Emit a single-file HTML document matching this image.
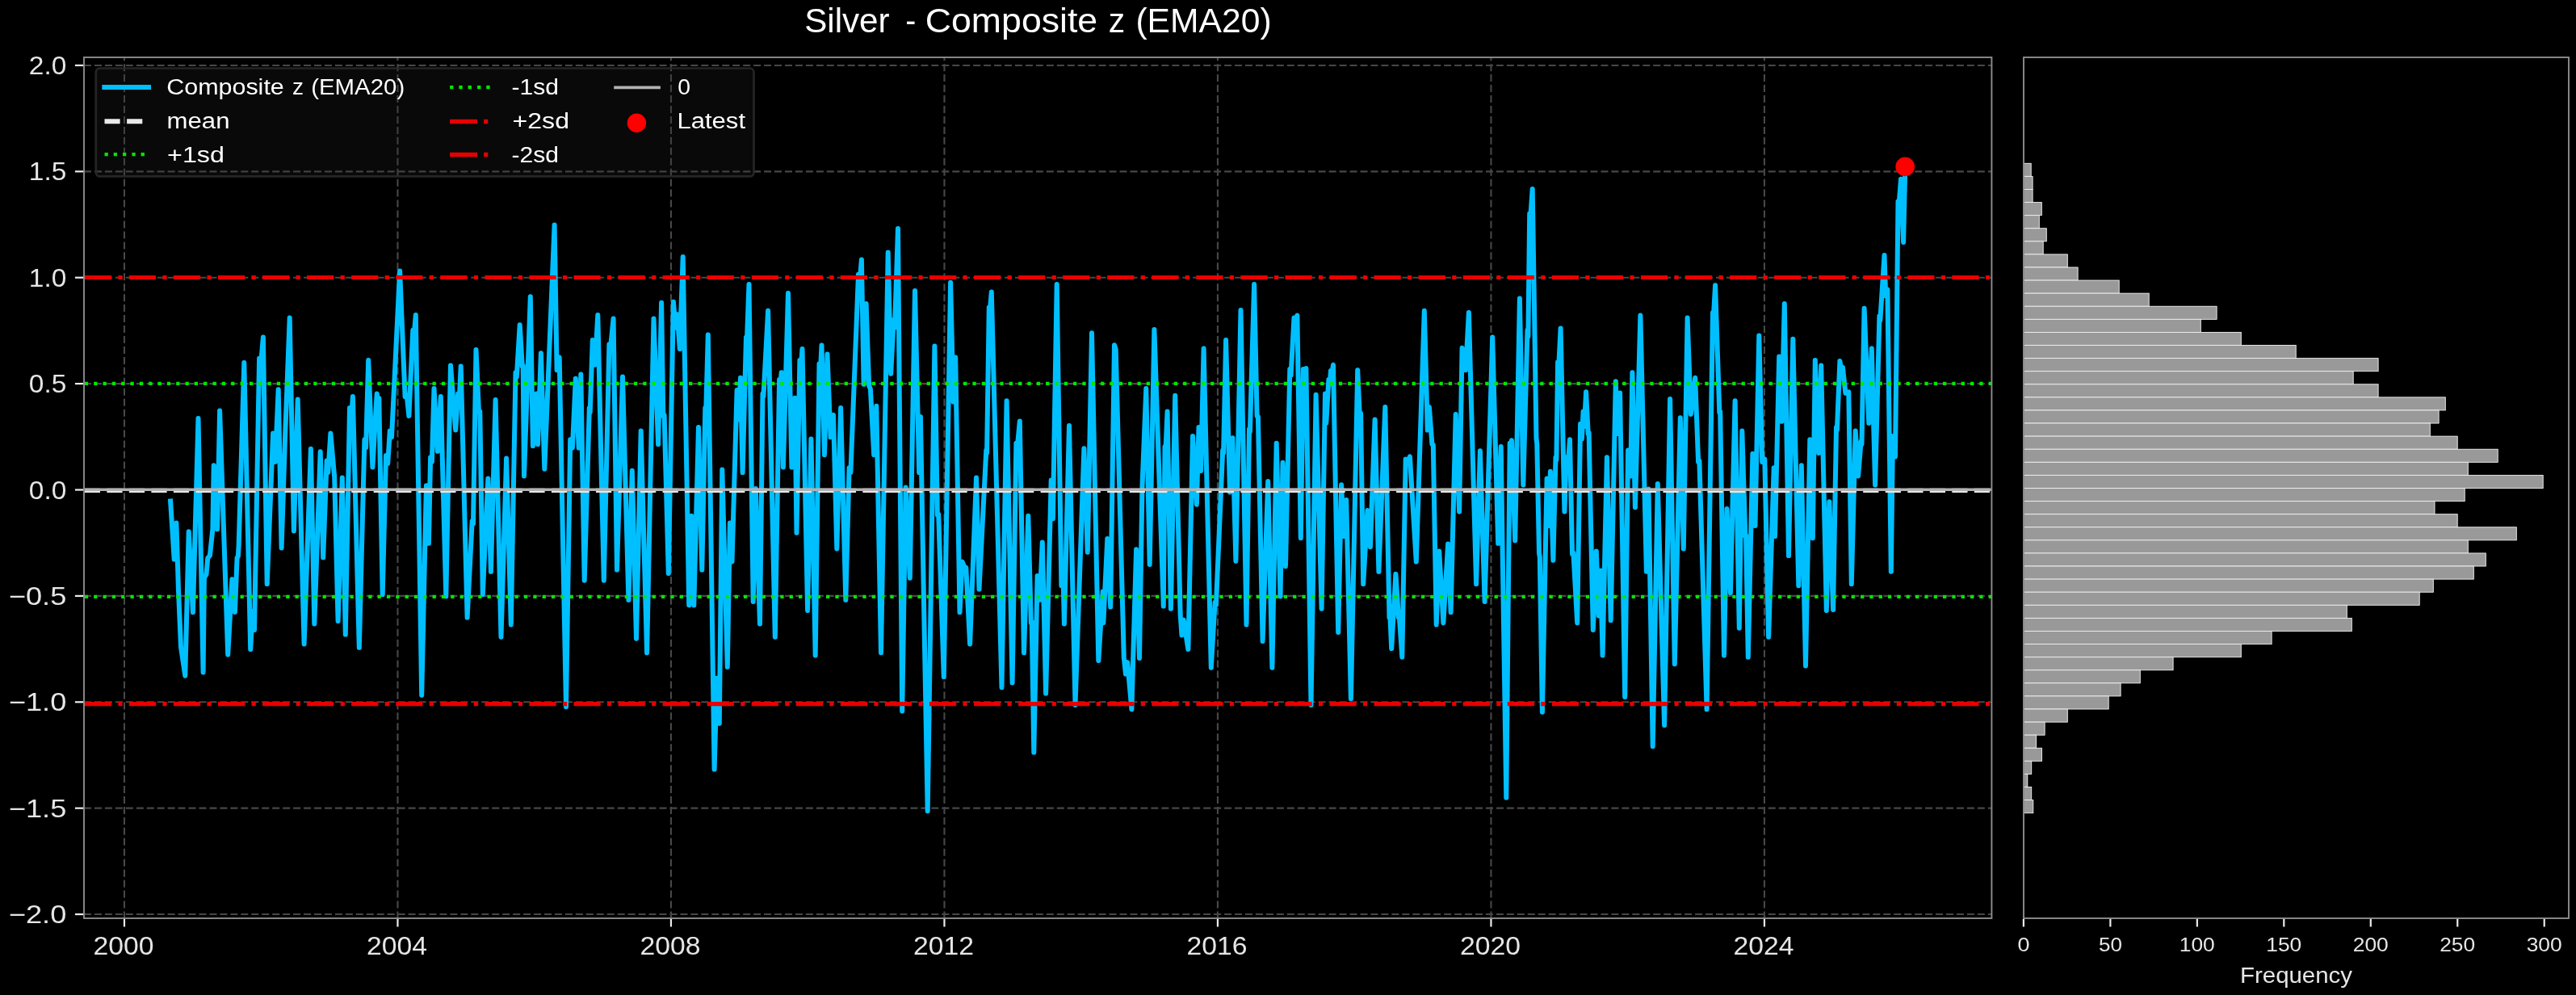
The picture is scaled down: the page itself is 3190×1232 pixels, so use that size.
<!DOCTYPE html>
<html><head><meta charset="utf-8"><title>Silver - Composite z (EMA20)</title>
<style>html,body{margin:0;padding:0;background:#000;}body{width:3190px;height:1232px;overflow:hidden;}svg{display:block;will-change:transform;}text{font-family:"Liberation Sans", sans-serif;}</style>
</head><body>
<svg width="3190" height="1232" viewBox="0 0 3190 1232">
<rect x="0" y="0" width="3190" height="1232" fill="#000"/>
<defs><clipPath id="cm"><rect x="104.0" y="71.0" width="2362.4" height="1066.0"/></clipPath></defs>
<g stroke="#474747" stroke-width="2.1" stroke-dasharray="9.0 3.955" fill="none" clip-path="url(#cm)">
<line x1="153.97" y1="1137.5" x2="153.97" y2="71.0"/>
<line x1="492.47" y1="1137.5" x2="492.47" y2="71.0"/>
<line x1="830.96" y1="1137.5" x2="830.96" y2="71.0"/>
<line x1="1169.46" y1="1137.5" x2="1169.46" y2="71.0"/>
<line x1="1507.95" y1="1137.5" x2="1507.95" y2="71.0"/>
<line x1="1846.45" y1="1137.5" x2="1846.45" y2="71.0"/>
<line x1="2184.95" y1="1137.5" x2="2184.95" y2="71.0"/>
<line x1="104.0" y1="80.94" x2="2466.4" y2="80.94"/>
<line x1="104.0" y1="212.33" x2="2466.4" y2="212.33"/>
<line x1="104.0" y1="343.72" x2="2466.4" y2="343.72"/>
<line x1="104.0" y1="475.11" x2="2466.4" y2="475.11"/>
<line x1="104.0" y1="606.50" x2="2466.4" y2="606.50"/>
<line x1="104.0" y1="737.89" x2="2466.4" y2="737.89"/>
<line x1="104.0" y1="869.28" x2="2466.4" y2="869.28"/>
<line x1="104.0" y1="1000.67" x2="2466.4" y2="1000.67"/>
<line x1="104.0" y1="1132.06" x2="2466.4" y2="1132.06"/>
</g>
<path d="M210.9 617.5 L214.0 665.6 L215.7 692.5 L218.4 647.4 L221.0 731.1 L224.0 801.1 L229.3 836.8 L233.7 658.3 L238.9 758.1 L245.5 518.1 L251.6 832.4 L252.9 715.8 L255.5 711.0 L257.3 690.9 L259.9 687.9 L263.4 655.1 L264.7 576.3 L269.1 655.3 L272.1 508.5 L282.2 810.5 L287.4 717.3 L290.9 758.1 L293.6 690.5 L294.9 688.7 L295.7 674.3 L302.3 449.0 L310.2 804.0 L312.8 756.7 L315.0 779.9 L321.1 443.8 L322.4 458.3 L325.9 417.6 L330.7 723.1 L338.1 536.5 L340.8 571.9 L344.7 482.3 L348.6 678.5 L353.0 542.8 L358.7 393.5 L363.9 657.5 L368.7 494.5 L376.6 797.4 L384.9 555.7 L389.3 772.5 L396.7 559.2 L400.2 690.3 L404.6 570.6 L406.3 585.1 L409.4 536.5 L414.2 590.9 L418.6 769.0 L423.8 591.6 L427.8 785.6 L433.0 505.0 L434.8 523.9 L436.9 491.0 L444.8 801.8 L451.4 544.3 L453.1 554.5 L456.2 446.0 L461.4 578.5 L466.7 487.5 L468.0 497.6 L469.3 492.8 L473.7 736.2 L478.0 564.0 L480.2 574.1 L482.8 533.4 L485.0 541.3 L495.1 335.4 L501.6 491.1 L503.8 489.7 L506.4 515.1 L511.3 408.8 L512.6 416.8 L514.8 390.0 L522.2 860.8 L527.9 601.2 L530.9 672.8 L533.1 566.2 L534.9 571.9 L537.5 481.0 L541.9 558.8 L545.8 491.0 L552.3 738.4 L558.0 452.5 L564.2 532.6 L567.2 487.5 L568.5 502.0 L570.7 453.4 L578.6 764.6 L584.7 645.2 L586.0 648.8 L589.5 432.9 L593.0 510.7 L594.3 509.4 L597.8 736.2 L604.4 592.4 L607.9 707.8 L613.6 494.9 L620.5 788.7 L627.1 567.5 L632.8 773.4 L638.5 461.3 L639.8 467.0 L643.7 402.3 L646.8 453.9 L647.7 452.5 L649.0 589.4 L656.8 367.3 L659.9 552.3 L664.3 487.5 L666.0 550.1 L669.9 437.2 L674.3 580.7 L686.6 278.5 L689.6 458.3 L692.7 442.5 L701.0 875.2 L706.2 544.3 L708.9 554.5 L712.8 468.7 L716.7 554.5 L719.3 463.5 L723.7 718.7 L729.8 505.0 L730.7 510.7 L733.8 421.1 L736.8 451.7 L740.3 390.0 L747.8 718.7 L754.4 426.3 L755.7 434.2 L759.6 394.4 L764.0 705.6 L771.0 466.5 L778.4 742.8 L782.8 582.8 L788.0 790.8 L793.7 533.4 L801.1 808.3 L809.5 394.4 L815.1 550.1 L819.1 374.7 L821.3 515.1 L822.6 513.7 L827.8 710.0 L833.9 373.8 L836.6 405.8 L838.7 389.2 L841.8 432.1 L845.7 317.9 L853.2 749.3 L856.2 638.7 L859.3 749.3 L865.0 529.0 L869.3 705.6 L873.3 505.0 L874.2 510.7 L876.8 414.5 L884.6 952.6 L887.7 839.8 L890.8 895.8 L894.3 581.5 L900.8 825.8 L903.9 647.4 L906.5 695.5 L912.6 483.1 L914.4 519.5 L917.0 467.8 L919.6 585.1 L924.0 417.6 L924.9 423.3 L927.5 352.0 L932.7 744.9 L935.8 605.0 L941.0 772.5 L944.5 487.5 L945.4 491.1 L951.1 384.8 L959.8 788.7 L965.1 470.0 L966.4 475.8 L967.7 461.3 L969.9 578.5 L976.0 362.9 L980.4 578.5 L984.3 492.8 L986.5 659.7 L990.4 446.0 L991.7 458.3 L993.5 432.0 L1000.1 755.9 L1004.4 543.5 L1009.7 811.4 L1014.5 450.4 L1015.8 462.7 L1017.5 427.6 L1021.0 563.2 L1024.5 438.5 L1028.5 541.3 L1032.0 513.7 L1036.3 679.4 L1041.1 505.0 L1047.3 742.8 L1051.6 579.3 L1053.4 585.1 L1063.0 339.8 L1064.3 353.4 L1066.9 321.4 L1069.6 475.8 L1072.6 376.0 L1076.1 477.3 L1077.9 481.6 L1082.2 563.2 L1085.3 502.8 L1091.0 808.3 L1099.7 312.6 L1103.2 462.7 L1106.7 395.7 L1108.0 405.8 L1112.0 282.9 L1117.2 880.5 L1121.6 603.4 L1126.8 715.7 L1133.0 359.9 L1138.2 585.1 L1139.9 515.9 L1148.7 1004.2 L1157.4 428.5 L1160.9 637.8 L1162.2 636.5 L1168.8 838.1 L1177.1 349.8 L1180.6 497.6 L1183.2 442.5 L1188.5 758.1 L1191.5 695.5 L1195.0 703.4 L1196.3 702.9 L1201.1 797.4 L1209.0 591.6 L1212.5 729.6 L1221.3 557.5 L1222.1 561.0 L1224.8 380.4 L1225.6 388.3 L1227.8 361.6 L1240.5 851.2 L1246.6 496.3 L1253.6 845.5 L1258.4 548.7 L1259.7 554.5 L1262.8 521.6 L1268.0 808.3 L1273.3 638.7 L1276.8 771.2 L1277.7 769.8 L1280.3 931.6 L1284.6 713.0 L1287.7 742.8 L1290.8 671.4 L1295.1 858.6 L1301.7 594.6 L1303.9 642.2 L1308.7 352.0 L1314.4 725.3 L1316.2 695.5 L1317.9 772.5 L1324.0 526.9 L1331.5 873.0 L1342.4 555.3 L1346.8 683.7 L1352.0 412.3 L1360.3 818.0 L1365.6 732.6 L1366.4 771.2 L1371.3 667.1 L1375.2 751.5 L1380.0 427.2 L1381.7 432.7 L1391.8 814.2 L1394.0 834.6 L1396.2 820.1 L1401.4 878.3 L1407.1 680.2 L1411.0 814.9 L1414.5 601.9 L1419.3 481.0 L1423.7 699.0 L1429.4 407.9 L1440.8 750.6 L1442.5 553.1 L1443.4 558.8 L1445.6 509.4 L1449.9 753.7 L1455.2 489.7 L1461.7 761.7 L1463.5 786.5 L1465.7 767.6 L1471.4 804.0 L1477.0 540.0 L1481.9 624.7 L1484.5 529.0 L1487.1 582.9 L1490.6 431.6 L1499.8 826.7 L1504.6 745.8 L1505.9 749.3 L1514.2 557.5 L1515.1 561.0 L1518.1 421.1 L1523.0 609.4 L1526.4 542.2 L1530.4 694.7 L1536.5 383.9 L1543.5 773.4 L1547.0 531.2 L1547.9 534.8 L1553.1 352.0 L1556.6 515.1 L1557.9 515.9 L1563.6 793.9 L1570.2 595.9 L1575.4 826.7 L1580.7 548.7 L1585.5 738.4 L1588.5 572.8 L1592.0 701.2 L1597.3 456.9 L1598.6 464.8 L1602.5 393.5 L1603.8 397.1 L1606.4 390.5 L1610.8 666.3 L1613.9 456.9 L1615.6 460.5 L1617.4 456.0 L1623.5 873.0 L1629.6 488.8 L1636.6 753.7 L1641.0 487.5 L1642.3 523.9 L1645.4 470.0 L1646.7 475.8 L1648.0 459.1 L1649.3 462.7 L1651.0 451.7 L1657.2 783.0 L1661.1 600.3 L1664.2 664.1 L1667.2 619.0 L1672.9 865.2 L1681.2 458.2 L1683.8 515.1 L1685.1 511.6 L1688.2 723.1 L1693.4 632.1 L1696.9 677.2 L1702.6 519.4 L1707.4 707.8 L1715.3 504.1 L1720.5 764.6 L1721.4 763.2 L1723.2 803.1 L1728.4 710.8 L1731.9 764.6 L1732.8 763.2 L1736.3 813.6 L1740.7 568.4 L1742.8 574.1 L1745.9 565.3 L1753.8 695.5 L1763.8 384.8 L1767.8 532.6 L1769.9 504.1 L1773.4 550.1 L1774.8 550.9 L1778.7 773.4 L1782.2 682.4 L1787.4 771.2 L1793.1 673.6 L1796.6 758.1 L1802.7 512.9 L1807.1 633.5 L1810.6 430.7 L1815.0 458.3 L1818.9 387.0 L1828.1 723.1 L1832.9 558.3 L1838.6 744.9 L1848.2 417.6 L1855.2 672.8 L1858.7 553.1 L1865.3 987.6 L1869.7 548.7 L1870.5 554.5 L1871.9 545.2 L1876.2 669.3 L1881.9 369.5 L1886.3 600.4 L1891.5 408.8 L1892.4 416.8 L1894.2 264.6 L1895.0 272.5 L1897.7 234.0 L1902.5 542.8 L1903.3 549.4 L1906.0 685.2 L1906.8 689.6 L1909.9 881.8 L1915.6 592.4 L1917.8 651.0 L1919.9 583.7 L1923.4 693.8 L1926.5 566.2 L1927.4 569.8 L1929.1 448.2 L1930.0 458.3 L1932.6 406.6 L1937.4 633.5 L1939.6 566.2 L1941.4 580.7 L1944.0 544.3 L1947.0 685.9 L1948.4 684.6 L1953.2 771.2 L1957.1 524.7 L1958.9 543.5 L1960.6 509.4 L1961.9 528.2 L1964.1 485.3 L1966.7 537.0 L1967.6 535.6 L1972.8 779.9 L1976.8 682.4 L1979.8 762.4 L1982.0 706.4 L1984.6 811.4 L1989.9 566.2 L1994.7 768.1 L2000.8 472.2 L2003.0 537.0 L2006.1 486.6 L2012.2 863.0 L2016.1 557.5 L2019.2 589.4 L2021.4 461.3 L2024.9 628.2 L2031.4 390.5 L2038.9 707.8 L2041.5 605.5 L2046.7 924.2 L2052.8 599.0 L2061.1 898.0 L2068.1 494.1 L2073.8 822.3 L2080.8 517.2 L2084.8 679.4 L2089.6 393.5 L2093.9 512.9 L2099.2 467.8 L2103.1 571.9 L2104.4 570.6 L2113.6 878.3 L2121.0 387.0 L2121.9 392.7 L2124.1 353.3 L2129.3 510.7 L2130.2 509.4 L2135.0 811.4 L2138.5 629.9 L2142.9 734.0 L2148.6 496.3 L2153.8 777.7 L2157.3 533.4 L2161.3 664.1 L2162.1 662.7 L2164.8 813.6 L2170.4 561.8 L2173.5 651.0 L2178.3 415.4 L2182.2 571.9 L2185.3 568.4 L2190.1 788.7 L2196.7 579.3 L2198.0 664.1 L2203.2 441.6 L2206.3 521.7 L2209.8 376.0 L2215.0 688.1 L2220.3 419.8 L2227.3 725.3 L2230.8 576.3 L2236.0 824.5 L2241.3 544.3 L2244.8 666.3 L2247.8 446.0 L2252.2 561.0 L2255.2 452.5 L2261.8 755.9 L2265.3 621.2 L2270.1 755.0 L2274.0 529.0 L2274.9 532.6 L2278.4 446.9 L2280.2 458.3 L2281.9 454.7 L2285.4 486.7 L2289.3 485.3 L2292.8 723.1 L2297.7 533.4 L2301.1 589.4 L2304.6 546.5 L2305.5 550.1 L2308.6 381.7 L2314.3 523.9 L2317.8 431.6 L2322.1 600.4 L2327.4 391.3 L2328.3 397.1 L2333.5 316.1 L2335.2 366.5 L2337.4 358.5 L2341.8 707.8 L2344.0 540.0 L2347.0 565.4 L2350.5 249.3 L2351.4 255.0 L2354.0 221.7 L2357.1 300.0 L2359.3 206.2" fill="none" stroke="#00bfff" stroke-width="6.0" stroke-linejoin="round" stroke-linecap="butt" clip-path="url(#cm)"/>
<g clip-path="url(#cm)" fill="none">
<line x1="104.8" y1="607.3" x2="2466.4" y2="607.3" stroke="#e9e9e9" stroke-width="5.2" stroke-dasharray="19.22 8.31"/>
<line x1="104.8" y1="474.9" x2="2466.4" y2="474.9" stroke="#00e800" stroke-width="4.2" stroke-dasharray="4.28 7.056"/>
<line x1="104.8" y1="738.9" x2="2466.4" y2="738.9" stroke="#00e800" stroke-width="4.2" stroke-dasharray="4.28 7.056"/>
<line x1="104.8" y1="343.5" x2="2466.4" y2="343.5" stroke="#e80000" stroke-width="5.2" stroke-dasharray="33.245 8.311 5.194 8.311"/>
<line x1="104.8" y1="871.6" x2="2466.4" y2="871.6" stroke="#e80000" stroke-width="5.2" stroke-dasharray="33.245 8.311 5.194 8.311"/>
<line x1="104.0" y1="606.3" x2="2466.4" y2="606.3" stroke="#b2b2b2" stroke-width="3.6"/>
</g>
<circle cx="2359.2" cy="206.4" r="11.8" fill="#ff0000"/>
<rect x="118.8" y="84.5" width="814.7" height="133.9" rx="5" ry="5" fill="#2a2a2a" fill-opacity="0.22" stroke="#282828" stroke-opacity="0.92" stroke-width="2.7"/>
<line x1="126.3" y1="108" x2="187" y2="108" stroke="#00bfff" stroke-width="6.1"/>
<path d="M129.5 150.2H148.6M157.1 150.2H176.3" stroke="#e9e9e9" stroke-width="6.1" fill="none"/>
<rect x="129.5" y="189.0" width="4.3" height="4.3" fill="#00e800"/>
<rect x="140.7" y="189.0" width="4.3" height="4.3" fill="#00e800"/>
<rect x="152.0" y="189.0" width="4.3" height="4.3" fill="#00e800"/>
<rect x="163.4" y="189.0" width="4.3" height="4.3" fill="#00e800"/>
<rect x="174.6" y="189.0" width="4.3" height="4.3" fill="#00e800"/>
<rect x="557.1" y="105.9" width="4.3" height="4.3" fill="#00e800"/>
<rect x="568.4" y="105.9" width="4.3" height="4.3" fill="#00e800"/>
<rect x="579.6" y="105.9" width="4.3" height="4.3" fill="#00e800"/>
<rect x="591.1" y="105.9" width="4.3" height="4.3" fill="#00e800"/>
<rect x="602.3" y="105.9" width="4.3" height="4.3" fill="#00e800"/>
<path d="M557.1 150.5H591M599.1 150.5H604.3" stroke="#e60000" stroke-width="5.5" fill="none"/>
<path d="M557.1 191.4H591M599.1 191.4H604.3" stroke="#e60000" stroke-width="5.5" fill="none"/>
<line x1="760.2" y1="108.4" x2="817.9" y2="108.4" stroke="#b2b2b2" stroke-width="3.6"/>
<circle cx="788.4" cy="152.3" r="11.7" fill="#ff0000"/>
<text x="206.2" y="116.8" font-size="28.40" text-anchor="start" fill="#ffffff" textLength="145.6" lengthAdjust="spacingAndGlyphs">Composite</text>
<text x="362.0" y="116.8" font-size="28.40" text-anchor="start" fill="#ffffff" textLength="14.0" lengthAdjust="spacingAndGlyphs">z</text>
<text x="385.2" y="116.8" font-size="28.40" text-anchor="start" fill="#ffffff" textLength="116.0" lengthAdjust="spacingAndGlyphs">(EMA20)</text>
<text x="206.5" y="158.8" font-size="28.40" text-anchor="start" fill="#ffffff" textLength="78.0" lengthAdjust="spacingAndGlyphs">mean</text>
<text x="207.0" y="200.9" font-size="28.40" text-anchor="start" fill="#ffffff" textLength="71.0" lengthAdjust="spacingAndGlyphs">+1sd</text>
<text x="633.5" y="116.8" font-size="28.40" text-anchor="start" fill="#ffffff" textLength="58.5" lengthAdjust="spacingAndGlyphs">-1sd</text>
<text x="634.5" y="158.8" font-size="28.40" text-anchor="start" fill="#ffffff" textLength="70.5" lengthAdjust="spacingAndGlyphs">+2sd</text>
<text x="633.5" y="200.9" font-size="28.40" text-anchor="start" fill="#ffffff" textLength="58.5" lengthAdjust="spacingAndGlyphs">-2sd</text>
<text x="839.3" y="116.8" font-size="28.40" text-anchor="start" fill="#ffffff" textLength="15.8" lengthAdjust="spacingAndGlyphs">0</text>
<text x="838.5" y="158.8" font-size="28.40" text-anchor="start" fill="#ffffff" textLength="84.5" lengthAdjust="spacingAndGlyphs">Latest</text>
<rect x="104.0" y="71.0" width="2362.4" height="1066.0" fill="none" stroke="#8c8c8c" stroke-width="1.9"/>
<g stroke="#ececec" stroke-width="2.2">
<line x1="92.9" y1="80.94" x2="103.1" y2="80.94"/>
<line x1="92.9" y1="212.33" x2="103.1" y2="212.33"/>
<line x1="92.9" y1="343.72" x2="103.1" y2="343.72"/>
<line x1="92.9" y1="475.11" x2="103.1" y2="475.11"/>
<line x1="92.9" y1="606.50" x2="103.1" y2="606.50"/>
<line x1="92.9" y1="737.89" x2="103.1" y2="737.89"/>
<line x1="92.9" y1="869.28" x2="103.1" y2="869.28"/>
<line x1="92.9" y1="1000.67" x2="103.1" y2="1000.67"/>
<line x1="92.9" y1="1132.06" x2="103.1" y2="1132.06"/>
<line x1="153.97" y1="1137.9" x2="153.97" y2="1147.5"/>
<line x1="492.47" y1="1137.9" x2="492.47" y2="1147.5"/>
<line x1="830.96" y1="1137.9" x2="830.96" y2="1147.5"/>
<line x1="1169.46" y1="1137.9" x2="1169.46" y2="1147.5"/>
<line x1="1507.95" y1="1137.9" x2="1507.95" y2="1147.5"/>
<line x1="1846.45" y1="1137.9" x2="1846.45" y2="1147.5"/>
<line x1="2184.95" y1="1137.9" x2="2184.95" y2="1147.5"/>
</g>
<text x="82.3" y="91.9" font-size="31.00" text-anchor="end" fill="#e6e6e6" textLength="46.5" lengthAdjust="spacingAndGlyphs">2.0</text>
<text x="82.3" y="223.3" font-size="31.00" text-anchor="end" fill="#e6e6e6" textLength="46.5" lengthAdjust="spacingAndGlyphs">1.5</text>
<text x="82.3" y="354.7" font-size="31.00" text-anchor="end" fill="#e6e6e6" textLength="46.5" lengthAdjust="spacingAndGlyphs">1.0</text>
<text x="82.3" y="486.1" font-size="31.00" text-anchor="end" fill="#e6e6e6" textLength="46.5" lengthAdjust="spacingAndGlyphs">0.5</text>
<text x="82.3" y="617.5" font-size="31.00" text-anchor="end" fill="#e6e6e6" textLength="46.5" lengthAdjust="spacingAndGlyphs">0.0</text>
<text x="82.3" y="748.9" font-size="31.00" text-anchor="end" fill="#e6e6e6" textLength="71.5" lengthAdjust="spacingAndGlyphs">−0.5</text>
<text x="82.3" y="880.3" font-size="31.00" text-anchor="end" fill="#e6e6e6" textLength="71.5" lengthAdjust="spacingAndGlyphs">−1.0</text>
<text x="82.3" y="1011.7" font-size="31.00" text-anchor="end" fill="#e6e6e6" textLength="71.5" lengthAdjust="spacingAndGlyphs">−1.5</text>
<text x="82.3" y="1143.1" font-size="31.00" text-anchor="end" fill="#e6e6e6" textLength="71.5" lengthAdjust="spacingAndGlyphs">−2.0</text>
<text x="153.1" y="1182.3" font-size="31.00" text-anchor="middle" fill="#e6e6e6" textLength="75.0" lengthAdjust="spacingAndGlyphs">2000</text>
<text x="491.6" y="1182.3" font-size="31.00" text-anchor="middle" fill="#e6e6e6" textLength="75.0" lengthAdjust="spacingAndGlyphs">2004</text>
<text x="830.1" y="1182.3" font-size="31.00" text-anchor="middle" fill="#e6e6e6" textLength="75.0" lengthAdjust="spacingAndGlyphs">2008</text>
<text x="1168.6" y="1182.3" font-size="31.00" text-anchor="middle" fill="#e6e6e6" textLength="75.0" lengthAdjust="spacingAndGlyphs">2012</text>
<text x="1507.1" y="1182.3" font-size="31.00" text-anchor="middle" fill="#e6e6e6" textLength="75.0" lengthAdjust="spacingAndGlyphs">2016</text>
<text x="1845.5" y="1182.3" font-size="31.00" text-anchor="middle" fill="#e6e6e6" textLength="75.0" lengthAdjust="spacingAndGlyphs">2020</text>
<text x="2184.0" y="1182.3" font-size="31.00" text-anchor="middle" fill="#e6e6e6" textLength="75.0" lengthAdjust="spacingAndGlyphs">2024</text>
<text x="996.2" y="40.2" font-size="43.00" text-anchor="start" fill="#ffffff" textLength="105.4" lengthAdjust="spacingAndGlyphs">Silver</text>
<text x="1121.2" y="40.2" font-size="43.00" text-anchor="start" fill="#ffffff" textLength="13.0" lengthAdjust="spacingAndGlyphs">-</text>
<text x="1145.8" y="40.2" font-size="43.00" text-anchor="start" fill="#ffffff" textLength="213.4" lengthAdjust="spacingAndGlyphs">Composite</text>
<text x="1372.8" y="40.2" font-size="43.00" text-anchor="start" fill="#ffffff" textLength="20.4" lengthAdjust="spacingAndGlyphs">z</text>
<text x="1406.4" y="40.2" font-size="43.00" text-anchor="start" fill="#ffffff" textLength="168.2" lengthAdjust="spacingAndGlyphs">(EMA20)</text>
<g fill="#999999" stroke="#f2f2f2" stroke-width="0.9">
<rect x="2506.0" y="202.30" width="9.2" height="16.09"/>
<rect x="2506.0" y="218.39" width="11.1" height="16.09"/>
<rect x="2506.0" y="234.48" width="11.1" height="16.09"/>
<rect x="2506.0" y="250.56" width="22.3" height="16.09"/>
<rect x="2506.0" y="266.65" width="19.3" height="16.09"/>
<rect x="2506.0" y="282.74" width="28.3" height="16.09"/>
<rect x="2506.0" y="298.83" width="24.2" height="16.09"/>
<rect x="2506.0" y="314.92" width="54.3" height="16.09"/>
<rect x="2506.0" y="331.00" width="67.1" height="16.09"/>
<rect x="2506.0" y="347.09" width="118.2" height="16.09"/>
<rect x="2506.0" y="363.18" width="155.2" height="16.09"/>
<rect x="2506.0" y="379.27" width="239.1" height="16.09"/>
<rect x="2506.0" y="395.36" width="219.3" height="16.09"/>
<rect x="2506.0" y="411.44" width="269.3" height="16.09"/>
<rect x="2506.0" y="427.53" width="337.2" height="16.09"/>
<rect x="2506.0" y="443.62" width="439.1" height="16.09"/>
<rect x="2506.0" y="459.71" width="408.2" height="16.09"/>
<rect x="2506.0" y="475.80" width="439.1" height="16.09"/>
<rect x="2506.0" y="491.88" width="522.3" height="16.09"/>
<rect x="2506.0" y="507.97" width="514.1" height="16.09"/>
<rect x="2506.0" y="524.06" width="503.3" height="16.09"/>
<rect x="2506.0" y="540.15" width="537.2" height="16.09"/>
<rect x="2506.0" y="556.24" width="587.2" height="16.09"/>
<rect x="2506.0" y="572.32" width="550.3" height="16.09"/>
<rect x="2506.0" y="588.41" width="643.2" height="16.09"/>
<rect x="2506.0" y="604.50" width="546.2" height="16.09"/>
<rect x="2506.0" y="620.59" width="509.0" height="16.09"/>
<rect x="2506.0" y="636.68" width="537.2" height="16.09"/>
<rect x="2506.0" y="652.76" width="610.3" height="16.09"/>
<rect x="2506.0" y="668.85" width="550.3" height="16.09"/>
<rect x="2506.0" y="684.94" width="572.3" height="16.09"/>
<rect x="2506.0" y="701.03" width="557.3" height="16.09"/>
<rect x="2506.0" y="717.12" width="507.3" height="16.09"/>
<rect x="2506.0" y="733.20" width="490.2" height="16.09"/>
<rect x="2506.0" y="749.29" width="400.3" height="16.09"/>
<rect x="2506.0" y="765.38" width="406.3" height="16.09"/>
<rect x="2506.0" y="781.47" width="307.1" height="16.09"/>
<rect x="2506.0" y="797.56" width="269.3" height="16.09"/>
<rect x="2506.0" y="813.64" width="185.1" height="16.09"/>
<rect x="2506.0" y="829.73" width="144.3" height="16.09"/>
<rect x="2506.0" y="845.82" width="120.1" height="16.09"/>
<rect x="2506.0" y="861.91" width="105.2" height="16.09"/>
<rect x="2506.0" y="878.00" width="54.3" height="16.09"/>
<rect x="2506.0" y="894.08" width="26.1" height="16.09"/>
<rect x="2506.0" y="910.17" width="15.5" height="16.09"/>
<rect x="2506.0" y="926.26" width="22.5" height="16.09"/>
<rect x="2506.0" y="942.35" width="9.7" height="16.09"/>
<rect x="2506.0" y="958.44" width="4.8" height="16.09"/>
<rect x="2506.0" y="974.52" width="9.7" height="16.09"/>
<rect x="2506.0" y="990.61" width="11.8" height="16.09"/>
</g>
<rect x="2506.0" y="71.0" width="675.0" height="1066.0" fill="none" stroke="#8c8c8c" stroke-width="1.9"/>
<g stroke="#ececec" stroke-width="2.2">
<line x1="2505.90" y1="1137.9" x2="2505.90" y2="1147.5"/>
<line x1="2613.37" y1="1137.9" x2="2613.37" y2="1147.5"/>
<line x1="2720.84" y1="1137.9" x2="2720.84" y2="1147.5"/>
<line x1="2828.31" y1="1137.9" x2="2828.31" y2="1147.5"/>
<line x1="2935.78" y1="1137.9" x2="2935.78" y2="1147.5"/>
<line x1="3043.25" y1="1137.9" x2="3043.25" y2="1147.5"/>
<line x1="3150.72" y1="1137.9" x2="3150.72" y2="1147.5"/>
</g>
<text x="2505.9" y="1178.0" font-size="24.60" text-anchor="middle" fill="#e6e6e6" textLength="15.0" lengthAdjust="spacingAndGlyphs">0</text>
<text x="2613.4" y="1178.0" font-size="24.60" text-anchor="middle" fill="#e6e6e6" textLength="29.0" lengthAdjust="spacingAndGlyphs">50</text>
<text x="2720.8" y="1178.0" font-size="24.60" text-anchor="middle" fill="#e6e6e6" textLength="44.0" lengthAdjust="spacingAndGlyphs">100</text>
<text x="2828.3" y="1178.0" font-size="24.60" text-anchor="middle" fill="#e6e6e6" textLength="44.0" lengthAdjust="spacingAndGlyphs">150</text>
<text x="2935.8" y="1178.0" font-size="24.60" text-anchor="middle" fill="#e6e6e6" textLength="44.0" lengthAdjust="spacingAndGlyphs">200</text>
<text x="3043.2" y="1178.0" font-size="24.60" text-anchor="middle" fill="#e6e6e6" textLength="44.0" lengthAdjust="spacingAndGlyphs">250</text>
<text x="3150.7" y="1178.0" font-size="24.60" text-anchor="middle" fill="#e6e6e6" textLength="44.0" lengthAdjust="spacingAndGlyphs">300</text>
<text x="2843.5" y="1216.8" font-size="28.30" text-anchor="middle" fill="#e6e6e6" textLength="139.0" lengthAdjust="spacingAndGlyphs">Frequency</text>
</svg>
</body></html>
